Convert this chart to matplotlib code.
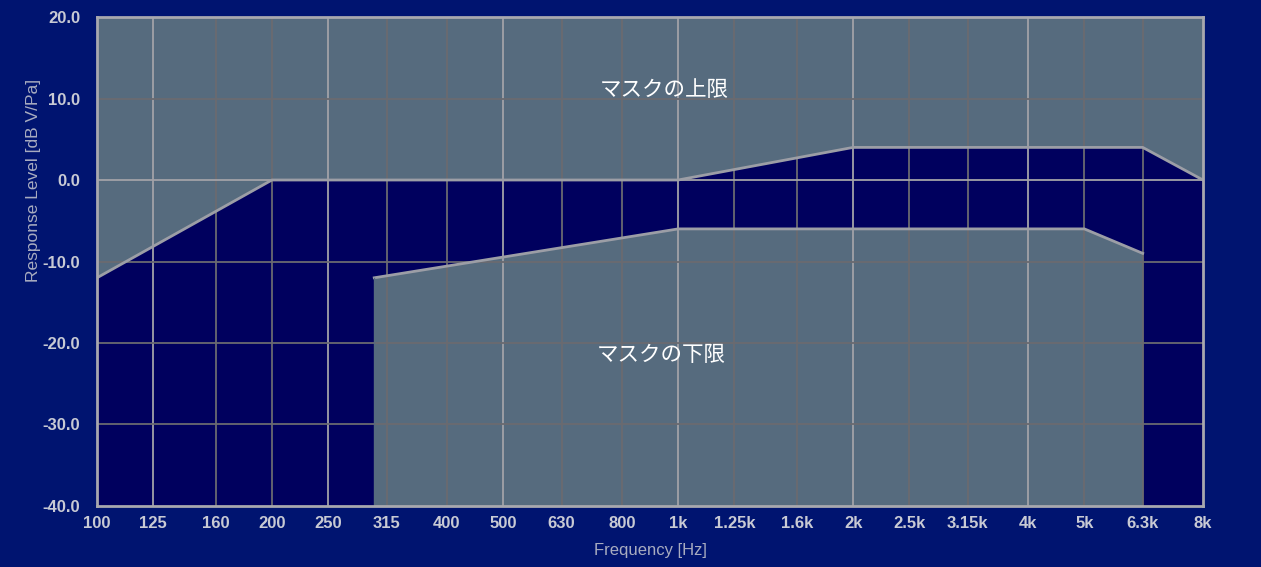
import matplotlib.pyplot as plt
from matplotlib.ticker import NullLocator

# 1/3-octave band centres shown on the x axis
band_freqs = [100, 125, 160, 200, 250, 315, 400, 500, 630, 800,
              1000, 1250, 1600, 2000, 2500, 3150, 4000, 5000, 6300, 8000]
band_labels = ['100', '125', '160', '200', '250', '315', '400', '500', '630', '800',
               '1k', '1.25k', '1.6k', '2k', '2.5k', '3.15k', '4k', '5k', '6.3k', '8k']
octave_freqs = [125, 250, 500, 1000, 2000, 4000]

# upper mask (response must stay below)
upper_freq = [100, 200, 1000, 2000, 6300, 8000]
upper_level = [-12, 0, 0, 4, 4, 0]

# lower mask (response must stay above)
lower_freq = [300, 1000, 5000, 6300]
lower_level = [-12, -6, -6, -9]

y_ticks = [20, 10, 0, -10, -20, -30, -40]
y_min, y_max = -40, 20

bg = '#001470'
plot_bg = '#00005e'
mask_col = '#566b7e'
edge_col = '#9c9ea6'
label_col = '#c8cad4'

plt.rcParams['font.family'] = ['Liberation Sans', 'DejaVu Sans']

fig = plt.figure(figsize=(12.61, 5.67), dpi=100, facecolor=bg)
ax = fig.add_axes([0.0769, 0.1076, 0.8771, 0.8624], facecolor=plot_bg)

ax.set_xscale('log')
ax.set_xlim(band_freqs[0], band_freqs[-1])
ax.set_ylim(y_min, y_max)

ax.fill_between(upper_freq, upper_level, y_max, color=mask_col, lw=0, zorder=1)
ax.fill_between(lower_freq, lower_level, y_min, color=mask_col, lw=0, zorder=1)

# grid: octave bands and 0 dB lighter, the rest darker
for f in band_freqs[1:-1]:
    c = '#a2a2a8' if f in octave_freqs else '#6a6a70'
    ax.axvline(f, color=c, lw=1.3, zorder=2)
for y in y_ticks[1:-1]:
    c = '#a2a2a8' if y == 0 else '#6a6a70'
    ax.axhline(y, color=c, lw=1.3, zorder=2)

ax.plot(upper_freq, upper_level, color=edge_col, lw=2, zorder=3)
ax.plot(lower_freq, lower_level, color=edge_col, lw=2, zorder=3)
ax.plot([lower_freq[0], lower_freq[0]], [y_min, lower_level[0]], color=mask_col, lw=1, zorder=3)

ax.text(945, 11, 'マスクの上限', color='white', fontsize=15.5, ha='center', va='center',
        family=['Noto Sans CJK JP', 'DejaVu Sans'], zorder=4)
ax.text(935, -21.5, 'マスクの下限', color='white', fontsize=15.5, ha='center', va='center',
        family=['Noto Sans CJK JP', 'DejaVu Sans'], zorder=4)

ax.xaxis.set_minor_locator(NullLocator())
ax.set_xticks(band_freqs)
ax.set_xticklabels(band_labels)
ax.set_yticks(y_ticks)
ax.set_yticklabels(['%.1f' % v for v in y_ticks])
ax.tick_params(axis='both', length=0, colors=label_col, labelsize=12)
ax.tick_params(axis='x', pad=7)
ax.tick_params(axis='y', pad=12)
for lab in ax.get_xticklabels() + ax.get_yticklabels():
    lab.set_fontweight('bold')

for s in ax.spines.values():
    s.set_color('#a8a8ae')
    s.set_linewidth(2)
    s.set_zorder(5)

ax.set_xlabel('Frequency [Hz]', color='#a8acc0', fontsize=12, labelpad=9)
ax.set_ylabel('Response Level [dB V/Pa]', color='#a8acc0', fontsize=12.5)
ax.yaxis.set_label_coords(-0.051, 0.665)

fig.savefig('out.png', dpi=100, facecolor=bg)
